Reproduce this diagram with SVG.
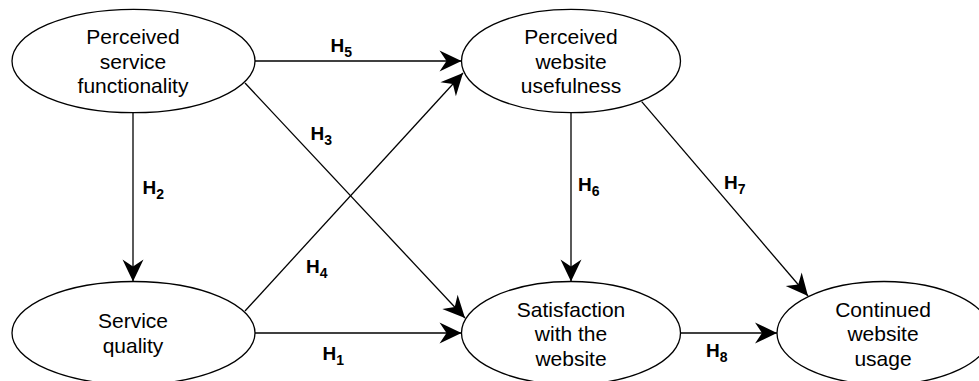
<svg xmlns="http://www.w3.org/2000/svg" width="979" height="381" viewBox="0 0 979 381">
<style>
.node ellipse{fill:#fff;stroke:#000;stroke-width:1.3}
.node text{font-family:"Liberation Sans",Arial,sans-serif;font-size:21px;fill:#000;text-anchor:middle}
.edge{stroke:#000;stroke-width:1.3;fill:none;marker-end:url(#arr)}
.lbl{font-family:"Liberation Sans",Arial,sans-serif;font-size:19px;font-weight:bold;fill:#000}
.sub{font-size:14px}
</style>
<defs>
<marker id="arr" viewBox="-23 -11 24 22" markerWidth="24" markerHeight="22" refX="0" refY="0" orient="auto" markerUnits="userSpaceOnUse">
<path d="M0,0 L-22,-10.5 L-15,0 L-22,10.5 Z" fill="#000"/>
</marker>
</defs>
<rect width="979" height="381" fill="#fff"/>
<g id="connectors">
<line class="edge" x1="133" y1="113" x2="133" y2="281.5"/>
<line class="edge" x1="255" y1="61" x2="461.5" y2="61"/>
<line class="edge" x1="571" y1="113" x2="571" y2="281.5"/>
<line class="edge" x1="255" y1="333" x2="461.5" y2="333"/>
<line class="edge" x1="680.5" y1="333" x2="777" y2="333"/>
<line class="edge" x1="245" y1="83" x2="465" y2="318"/>
<line class="edge" x1="245" y1="311" x2="463" y2="73"/>
<line class="edge" x1="641.7" y1="101.7" x2="808" y2="296"/>
<text class="lbl" x="142.5" y="193.5">H<tspan class="sub" dy="5">2</tspan></text>
<text class="lbl" x="330.5" y="52">H<tspan class="sub" dy="5">5</tspan></text>
<text class="lbl" x="310.5" y="139.5">H<tspan class="sub" dy="5">3</tspan></text>
<text class="lbl" x="306" y="273">H<tspan class="sub" dy="5">4</tspan></text>
<text class="lbl" x="322.5" y="359.5">H<tspan class="sub" dy="5">1</tspan></text>
<text class="lbl" x="578" y="191">H<tspan class="sub" dy="5">6</tspan></text>
<text class="lbl" x="724" y="188.5">H<tspan class="sub" dy="5">7</tspan></text>
<text class="lbl" x="706" y="357">H<tspan class="sub" dy="5">8</tspan></text>
</g>
<g id="psf" class="node">
<ellipse cx="133.5" cy="61" rx="121.5" ry="51.7"/>
<text x="133" y="44">Perceived</text>
<text x="133" y="68.5">service</text>
<text x="133" y="93">functionality</text>
</g>
<g id="pwu" class="node">
<ellipse cx="571" cy="61" rx="109.5" ry="51.7"/>
<text x="571" y="44">Perceived</text>
<text x="571" y="68.5">website</text>
<text x="571" y="93">usefulness</text>
</g>
<g id="sq" class="node">
<ellipse cx="133.5" cy="333" rx="121.5" ry="51.5"/>
<text x="133" y="328.3">Service</text>
<text x="133" y="352.8">quality</text>
</g>
<g id="sat" class="node">
<ellipse cx="571" cy="333" rx="109.5" ry="51.5"/>
<text x="571" y="316.5">Satisfaction</text>
<text x="571" y="341">with the</text>
<text x="571" y="365.5">website</text>
</g>
<g id="cwu" class="node">
<ellipse cx="884" cy="333" rx="107" ry="51.5"/>
<text x="883" y="316.5">Continued</text>
<text x="883" y="341">website</text>
<text x="883" y="365.5">usage</text>
</g>
</svg>
